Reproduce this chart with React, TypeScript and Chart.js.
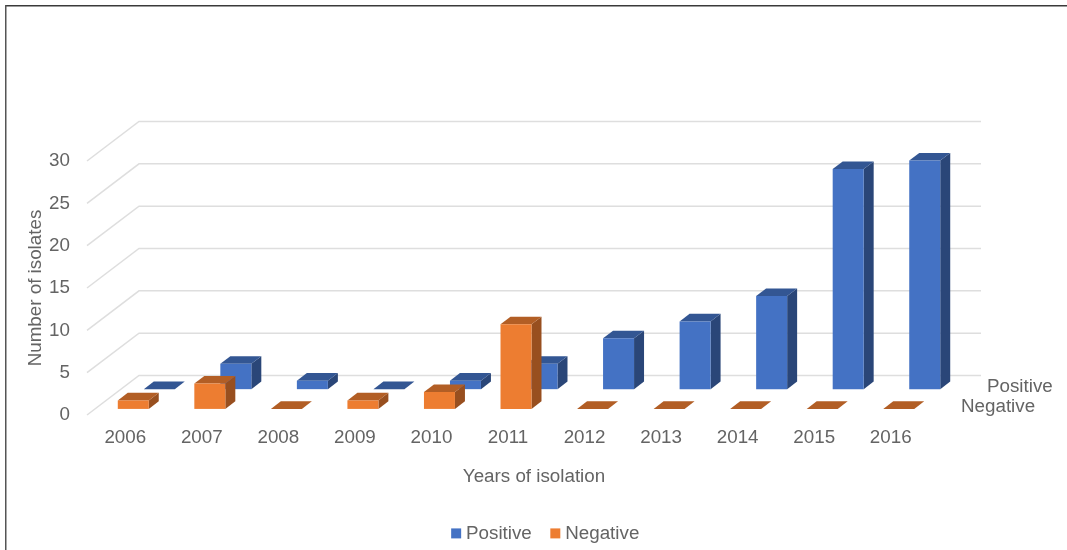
import React, { useEffect, useRef } from "react";
import { Chart, registerables } from "chart.js";

Chart.register(...registerables);

const years = ["2006", "2007", "2008", "2009", "2010", "2011", "2012", "2013", "2014", "2015", "2016"];
const positive = [0, 3, 1, 0, 1, 3, 6, 8, 11, 26, 27];
const negative = [1, 3, 0, 1, 2, 10, 0, 0, 0, 0, 0];
const yTitle = "Number of isolates";
const xTitle = "Years of isolation";

const TEXT = "#646464";
const GRID = "#dedede";
const FONT = { family: "'Liberation Sans', Arial, sans-serif", size: 18.8 };

// Oblique projection of the floor: how far the back wall sits from the front edge.
const WALL_DX = 52;
const WALL_DY = 39.5;
// Centre of each series row along the depth axis (dataset order), and the bars' depth.
const ROW_DEPTH = [0.75, 0.25];
const BAR_DEPTH = 0.192;

const FACES = [
  { top: "#335693", side: "#2a4678" },
  { top: "#b25e25", side: "#984f1f" },
];

function poly(ctx: CanvasRenderingContext2D, pts: number[][], fill: string) {
  ctx.fillStyle = fill;
  ctx.beginPath();
  pts.forEach(([x, y], i) => (i ? ctx.lineTo(x, y) : ctx.moveTo(x, y)));
  ctx.closePath();
  ctx.fill();
}

const obliqueBars = {
  id: "obliqueBars",
  afterLayout(chart: any) {
    // The legend sits under the back wall's centre rather than the canvas centre.
    const legend = chart.legend;
    legend.left += 83;
    legend.right += 83;
    legend.top = 501;
    legend.bottom = 552;
  },
  beforeDraw(chart: any) {
    const { ctx, width, height } = chart;
    ctx.save();
    ctx.fillStyle = "#ffffff";
    ctx.fillRect(0, 0, width, height);
    ctx.fillStyle = "#3a3a3a";
    ctx.fillRect(5, 5, width - 5, 1.5);
    ctx.fillStyle = "#555555";
    ctx.fillRect(5, 5, 1.5, height - 5);
    ctx.restore();
  },
  beforeDatasetsDraw(chart: any) {
    // Gridlines run up the side wall, then along the back wall.
    const { ctx, chartArea, scales } = chart;
    ctx.save();
    ctx.strokeStyle = GRID;
    ctx.lineWidth = 1.5;
    scales.y.ticks.forEach((tick: any) => {
      const y = scales.y.getPixelForValue(tick.value);
      ctx.beginPath();
      ctx.moveTo(chartArea.left, y);
      ctx.lineTo(chartArea.left + WALL_DX, y - WALL_DY);
      ctx.lineTo(chartArea.right + WALL_DX, y - WALL_DY);
      ctx.stroke();
    });
    ctx.restore();
  },
  beforeDatasetDraw() {
    return false;
  },
  afterDatasetsDraw(chart: any) {
    const { ctx, chartArea, data } = chart;
    ctx.save();
    const ddx = WALL_DX * BAR_DEPTH;
    const ddy = WALL_DY * BAR_DEPTH;
    data.datasets.forEach((dataset: any, i: number) => {
      const front = ROW_DEPTH[i] - BAR_DEPTH / 2;
      chart.getDatasetMeta(i).data.forEach((bar: any) => {
        const l = bar.x - bar.width / 2 + WALL_DX * front;
        const r = l + bar.width;
        const b = bar.base - WALL_DY * front;
        const t = bar.y - WALL_DY * front;
        poly(ctx, [[r, t], [r + ddx, t - ddy], [r + ddx, b - ddy], [r, b]], FACES[i].side);
        poly(ctx, [[l, t], [l + ddx, t - ddy], [r + ddx, t - ddy], [r, t]], FACES[i].top);
        poly(ctx, [[l, t], [r, t], [r, b], [l, b]], dataset.backgroundColor);
      });
    });

    // Depth-axis labels and the category-axis title follow the floor's slant.
    ctx.font = `${FONT.size}px ${FONT.family}`;
    ctx.fillStyle = TEXT;
    ctx.textBaseline = "middle";
    ctx.textAlign = "left";
    data.datasets.forEach((dataset: any, i: number) => {
      ctx.fillText(
        dataset.label,
        chartArea.right + WALL_DX * ROW_DEPTH[i] + 19,
        chartArea.bottom - WALL_DY * ROW_DEPTH[i] + 1.5
      );
    });
    ctx.textAlign = "center";
    ctx.fillText(xTitle, (chartArea.left + chartArea.right + WALL_DX) / 2, 477);
    ctx.restore();
  },
};

export default function App() {
  const ref = useRef<HTMLCanvasElement>(null);

  useEffect(() => {
    const chart = new Chart(ref.current!, {
      type: "bar",
      data: {
        labels: years,
        datasets: [
          { label: "Positive", data: positive, backgroundColor: "#4472c4", grouped: false },
          { label: "Negative", data: negative, backgroundColor: "#ed7d31", grouped: false },
        ],
      },
      plugins: [obliqueBars],
      options: {
        responsive: false,
        animation: false,
        events: [],
        layout: { padding: { left: 0, top: 161, right: 138, bottom: 0 } },
        datasets: { bar: { barThickness: 31 } },
        scales: {
          x: {
            grid: { display: false, drawTicks: false },
            border: { display: false },
            ticks: { font: FONT, color: TEXT, padding: 12, maxRotation: 0, autoSkip: false },
            afterFit(scale: any) {
              scale.height = 135 - scale.chart.legend.height;
            },
          },
          y: {
            min: 0,
            max: 30,
            grid: { display: false, drawTicks: false },
            border: { display: false },
            ticks: { stepSize: 5, font: FONT, color: TEXT, padding: 17 },
            title: {
              display: true,
              text: yTitle,
              font: FONT,
              color: TEXT,
              padding: { top: 25, bottom: 0 },
            },
            afterFit(scale: any) {
              scale.width = 87;
            },
          },
        },
        plugins: {
          title: { display: false },
          tooltip: { enabled: false },
          legend: {
            position: "bottom",
            labels: {
              usePointStyle: true,
              pointStyle: "rect",
              boxWidth: 1,
              boxHeight: 10,
              padding: 23,
              font: FONT,
              color: TEXT,
            },
          },
        },
      },
    } as any);
    return () => chart.destroy();
  }, []);

  return (
    <canvas
      ref={ref}
      width={1067}
      height={550}
      style={{ position: "absolute", left: 0, top: 0, display: "block" }}
    />
  );
}
